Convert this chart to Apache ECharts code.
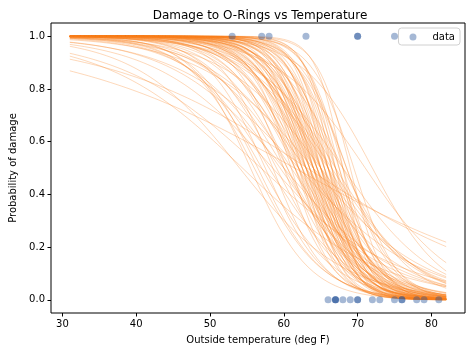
<!DOCTYPE html>
<html>
<head>
<meta charset="utf-8">
<script src="https://cdn.jsdelivr.net/npm/echarts@6/dist/echarts.min.js"></script>
<style>
  html, body { margin: 0; padding: 0; background: #fff; }
  #main { width: 472px; height: 352px; }
</style>
</head>
<body>
<div id="main"></div>
<script>
// flights: outside temperature and whether O-ring damage happened
var temps = [66, 70, 69, 68, 67, 72, 73, 70, 57, 63, 70, 78, 67, 53, 67, 75, 70, 81, 76, 79, 75, 76, 58]
var damage = [0, 1, 0, 0, 0, 0, 0, 0, 1, 1, 1, 0, 0, 1, 0, 0, 0, 0, 0, 0, 1, 0, 1]

// posterior sample of the logistic model, log odds = intercept + slope * (temp - offset)
var offset = 70
var intercepts = [
  -0.53, -0.50, -1.67, -1.35, -1.44, -0.96, -1.30, -0.78, -0.68, -0.54,
  -0.75, -0.32, -0.60, -1.05, -0.44, 0.42, -0.45, -0.18, -3.08, -2.60,
  -3.13, -2.16, -3.22, -2.42, -1.68, -3.00, -1.90, -2.38, -1.53, -3.15,
  -1.87, -2.55, -2.00, -3.04, -1.60, -2.10, -2.48, -1.65, -1.82, -2.80,
  -2.10, -1.47, -2.28, -1.56, -1.82, -2.93, -1.80, -1.56, -2.28, -1.32,
  -1.98, -2.31, -1.54, -1.32, -1.93, -1.50, -2.25, -1.30, -1.90, -1.10,
  -1.49, -2.25, -1.26, -1.80, -1.44, -1.20, -1.92, -1.00, -1.47, -1.19,
  -1.93, -1.14, -0.90, -1.50, -1.10, -0.88, -0.80, -1.10, -0.48, -0.45,
  -2.52, -2.38, -3.00, -2.21, -2.00, -1.70, -1.71, -2.02, -1.60, -2.40,
  -2.24, 0.17, -3.63, -3.11
]
var slopes = [
  -0.062, -0.073, -0.107, -0.103, -0.125, -0.12, -0.13, -0.13, -0.17, -0.18,
  -0.15, -0.16, -0.17, -0.15, -0.22, -0.21, -0.30, -0.35, -0.22, -0.20,
  -0.25, -0.18, -0.28, -0.22, -0.16, -0.30, -0.19, -0.25, -0.17, -0.35,
  -0.22, -0.30, -0.25, -0.38, -0.20, -0.28, -0.33, -0.22, -0.26, -0.40,
  -0.30, -0.21, -0.35, -0.24, -0.28, -0.45, -0.30, -0.26, -0.38, -0.22,
  -0.33, -0.42, -0.28, -0.24, -0.35, -0.30, -0.45, -0.26, -0.38, -0.22,
  -0.33, -0.50, -0.28, -0.40, -0.36, -0.30, -0.48, -0.25, -0.42, -0.34,
  -0.55, -0.38, -0.30, -0.50, -0.44, -0.35, -0.40, -0.55, -0.32, -0.45,
  -0.42, -0.34, -0.40, -0.26, -0.21, -0.34, -0.31, -0.31, -0.40, -0.30,
  -0.14, -0.165, -0.25, -0.23
]

var tempStart = 31
var tempEnd = 82
var xTicks = [30, 40, 50, 60, 70, 80]
var yTicks = [0, 0.2, 0.4, 0.6, 0.8, 1.0]

var tempGrid = []
for (var t = tempStart; t <= tempEnd + 1e-9; t += 0.5) tempGrid.push(t)

var series = []
var n = Math.min(intercepts.length, slopes.length)
for (var i = 0; i < n; i++) {
  var pts = tempGrid.map(function (x) {
    var logOdds = intercepts[i] + slopes[i] * (x - offset)
    return [x, 1 / (1 + Math.exp(-logOdds))]
  })
  series.push({
    type: 'line',
    data: pts,
    showSymbol: false,
    silent: true,
    z: 2,
    lineStyle: { color: 'rgba(250, 125, 25, 0.3)', width: 1 }
  })
}

series.push({
  name: 'data',
  type: 'scatter',
  data: temps.map(function (x, k) { return [x, damage[k]] }),
  symbolSize: 7,
  z: 5,
  itemStyle: { color: 'rgba(31, 78, 150, 0.5)' }
})

var font = 'DejaVu Sans'
var chart = echarts.init(document.getElementById('main'), null, { renderer: 'canvas' })
chart.setOption({
  animation: false,
  title: {
    text: 'Damage to O-Rings vs Temperature',
    left: 255,
    textAlign: 'center',
    top: 5,
    textStyle: { fontFamily: font, fontSize: 12, fontWeight: 'normal', color: '#000' }
  },
  legend: {
    data: ['data'],
    right: 12,
    top: 28,
    padding: [4, 5, 3, 11],
    itemWidth: 7,
    itemHeight: 7,
    borderColor: '#d0d0d0',
    borderWidth: 1,
    borderRadius: 3,
    backgroundColor: 'rgba(255,255,255,0.8)',
    textStyle: { fontFamily: font, fontSize: 10, color: '#000', padding: [0, 0, 0, 11] }
  },
  grid: {
    left: 46,
    right: 7,
    top: 23,
    bottom: 39,
    show: true,
    borderColor: '#000',
    borderWidth: 1
  },
  xAxis: {
    type: 'value',
    min: 28.45,
    max: 84.55,
    name: 'Outside temperature (deg F)',
    nameLocation: 'middle',
    nameGap: 22,
    nameTextStyle: { fontFamily: font, fontSize: 10, color: '#000' },
    axisLine: { show: false, onZero: false },
    splitLine: { show: false },
    axisTick: { show: true, length: 3.5, inside: false, customValues: xTicks, lineStyle: { color: '#000' } },
    axisLabel: { customValues: xTicks, margin: 6, fontFamily: font, fontSize: 10, color: '#000' }
  },
  yAxis: {
    type: 'value',
    min: -0.05,
    max: 1.05,
    name: 'Probability of damage',
    nameLocation: 'middle',
    nameGap: 33,
    nameTextStyle: { fontFamily: font, fontSize: 10, color: '#000' },
    axisLine: { show: false, onZero: false },
    splitLine: { show: false },
    axisTick: { show: true, length: 3.5, inside: false, customValues: yTicks, lineStyle: { color: '#000' } },
    axisLabel: {
      customValues: yTicks,
      margin: 6,
      fontFamily: font,
      fontSize: 10,
      color: '#000',
      formatter: function (v) { return v.toFixed(1) }
    }
  },
  series: series
})
</script>
</body>
</html>
